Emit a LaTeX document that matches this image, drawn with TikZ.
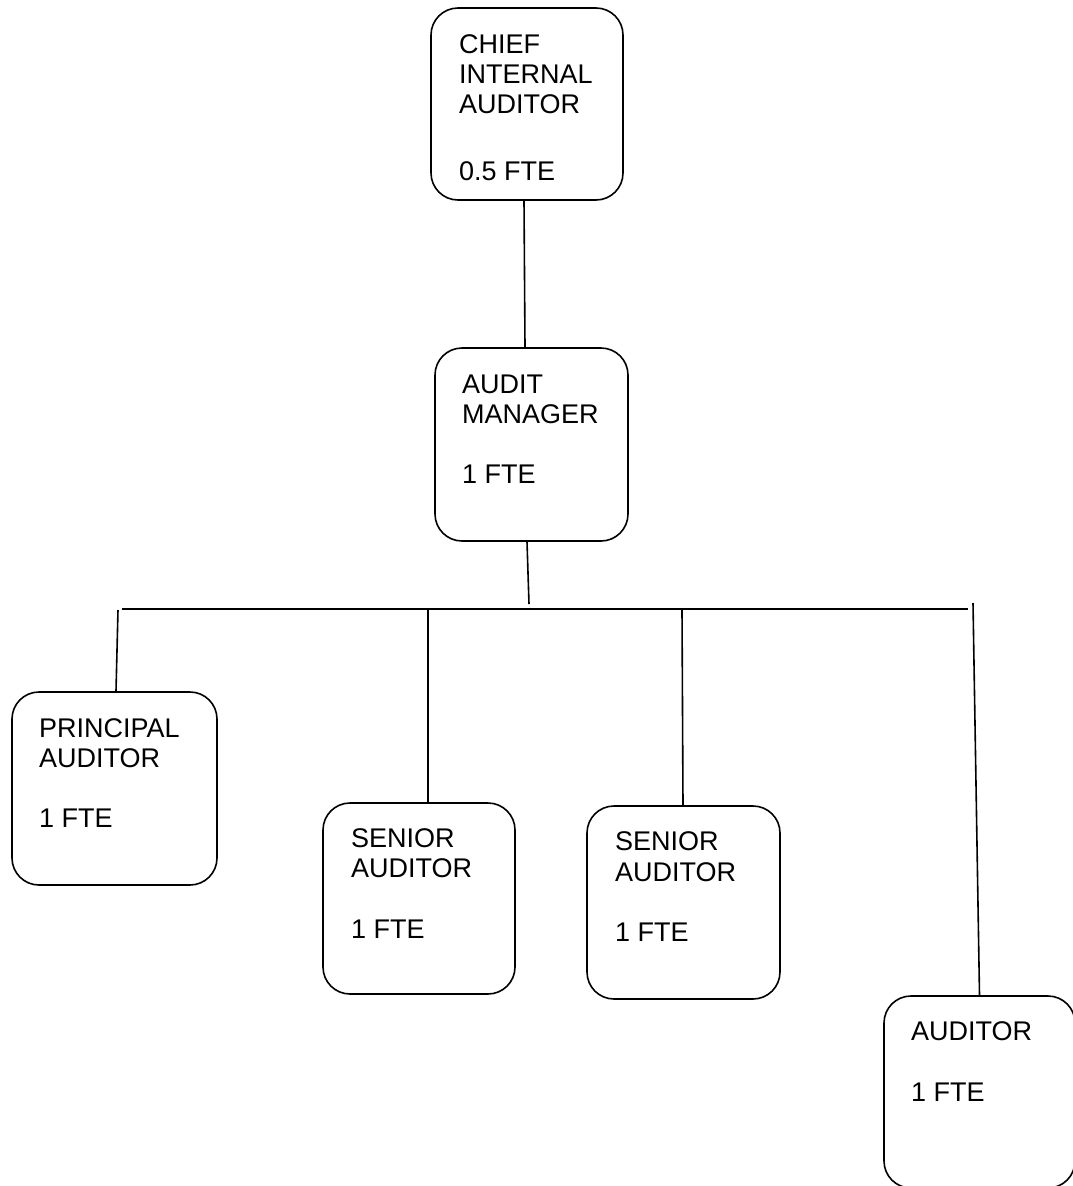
\documentclass[tikz,border=0pt]{standalone}
\usepackage{fontspec}
\setmainfont{Liberation Sans}
\begin{document}
\begin{tikzpicture}[x=1pt,y=-1pt,
  box/.style={draw, line width=1.6pt, rounded corners=27pt, inner sep=0pt},
  txt/.style={anchor=base west, inner sep=0pt, font=\fontsize{27}{30}\selectfont},
  conn/.style={line width=1.6pt}]
\useasboundingbox (0,0) rectangle (1072,1186);
% boxes
\node[box, minimum width=192pt, minimum height=192pt] (chief) at (527,104) {};
\node[box, minimum width=193pt, minimum height=193pt] (manager) at (531.5,444.5) {};
\node[box, minimum width=205pt, minimum height=193pt] (principal) at (114.5,788.5) {};
\node[box, minimum width=192pt, minimum height=191pt] (senior1) at (419,898.5) {};
\node[box, minimum width=193pt, minimum height=193pt] (senior2) at (683.5,902.5) {};
\node[box, minimum width=191pt, minimum height=192pt] (auditor) at (979.5,1092) {};
% texts
\node[txt] (t1a) at (459,53) {CHIEF};
\node[txt] (t1b) at (459,83) {INTERNAL};
\node[txt] (t1c) at (459,113) {AUDITOR};
\node[txt] (t1d) at (459,180) {0.5 FTE};
\node[txt] (t2a) at (462,393) {AUDIT};
\node[txt] (t2b) at (462,423) {MANAGER};
\node[txt] (t2c) at (462,483) {1 FTE};
\node[txt] (t3a) at (39,737) {PRINCIPAL};
\node[txt] (t3b) at (39,767) {AUDITOR};
\node[txt] (t3c) at (39,827) {1 FTE};
\node[txt] (t4a) at (351,847) {SENIOR};
\node[txt] (t4b) at (351,877) {AUDITOR};
\node[txt] (t4c) at (351,938) {1 FTE};
\node[txt] (t5a) at (615,850) {SENIOR};
\node[txt] (t5b) at (615,881) {AUDITOR};
\node[txt] (t5c) at (615,941) {1 FTE};
\node[txt] (t6a) at (911,1040) {AUDITOR};
\node[txt] (t6b) at (911,1101) {1 FTE};
% connector points
\coordinate (busL) at (122,609);
\coordinate (busR) at (968,609);
\coordinate (mstub) at (529,604);
\coordinate (p1) at (118,610);
\coordinate (s1) at (428,610);
\coordinate (s2) at (682,610);
\coordinate (a1) at (973,603);
% connectors
\draw[conn] ([xshift=-3pt]chief.south) -- ([xshift=-6.5pt]manager.north);
\draw[conn] ([xshift=-4.5pt]manager.south) -- (mstub);
\draw[conn] (busL) -- (busR);
\draw[conn] (p1) -- ([xshift=1.5pt]principal.north);
\draw[conn] (s1) -- ([xshift=9pt]senior1.north);
\draw[conn] (s2) -- ([xshift=-0.5pt]senior2.north);
\draw[conn] (a1) -- (auditor.north);
\end{tikzpicture}
\end{document}
